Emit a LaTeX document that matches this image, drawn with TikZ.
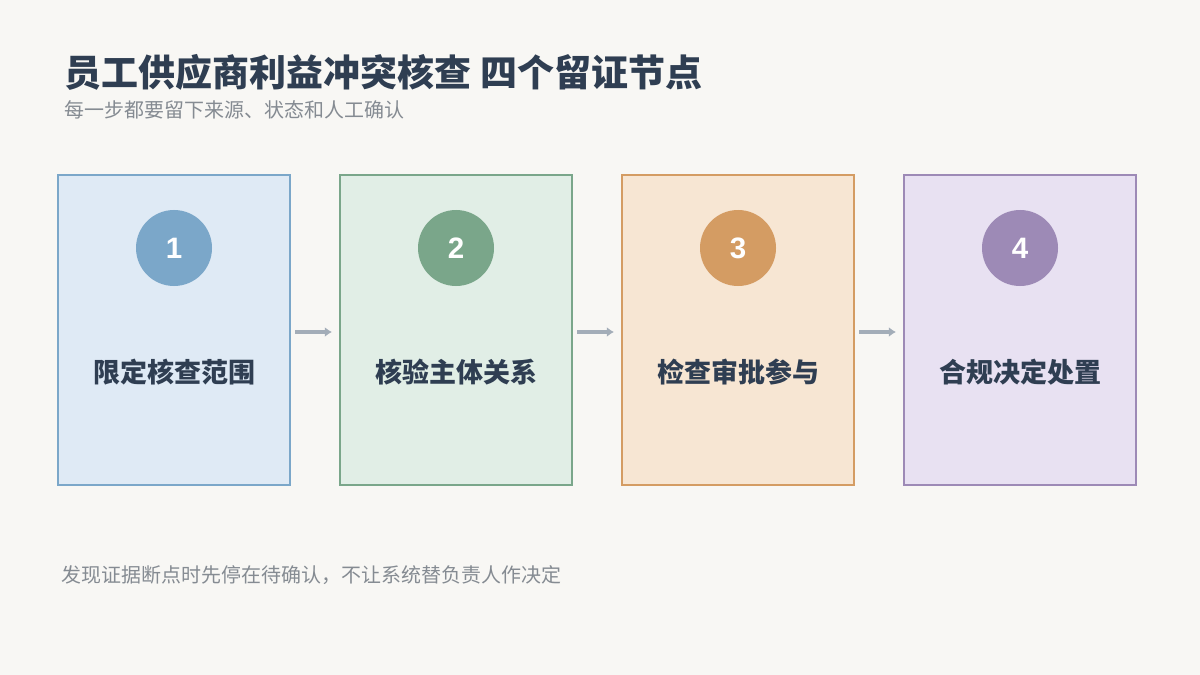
\documentclass[tikz,border=0pt]{standalone}
\usepackage{fontspec}
\setmainfont{Noto Sans CJK SC}
\setsansfont{Liberation Sans}
\usetikzlibrary{positioning,arrows.meta}
\definecolor{bgc}{HTML}{F8F7F4}
\definecolor{ink}{HTML}{2F3E52}
\definecolor{muted}{HTML}{858B92}
\definecolor{arrowc}{HTML}{A3ADB8}
\definecolor{fillA}{HTML}{DFEAF5}\definecolor{lineA}{HTML}{7BA7C9}
\definecolor{fillB}{HTML}{E1EEE6}\definecolor{lineB}{HTML}{7AA68A}
\definecolor{fillC}{HTML}{F7E6D3}\definecolor{lineC}{HTML}{D49C63}
\definecolor{fillD}{HTML}{E8E1F2}\definecolor{lineD}{HTML}{9D8AB6}
\tikzset{
  step/.style={draw=line#1, fill=fill#1, line width=1.5pt, minimum width=232*0.025cm, minimum height=310*0.025cm, inner sep=0pt},
  badge/.style={circle, fill=line#1, minimum size=76*0.025cm, inner sep=0pt, text=white, font=\sffamily\bfseries\fontsize{21}{24}\selectfont},
  steplabel/.style={text=ink, font=\bfseries\fontsize{19.2}{22}\selectfont},
  link/.style={draw=arrowc, line width=2.5pt, -{Latex[length=5pt,width=7pt]}}
}
\begin{document}
\begin{tikzpicture}[x=0.025cm, y=-0.025cm]
\fill[bgc] (0,0) rectangle (1200,675);
\useasboundingbox (0,0) rectangle (1200,675);
% heading
\node[anchor=west, text=ink, font=\bfseries\fontsize{26.3}{30}\selectfont] (title) at (60,72) {员工供应商利益冲突核查 四个留证节点};
\node[anchor=west, text=muted, font=\fontsize{14.2}{17}\selectfont] (sub) at (60,110) {每一步都要留下来源、状态和人工确认};
% steps
\foreach \i/\c/\t in {1/A/限定核查范围, 2/B/核验主体关系, 3/C/检查审批参与, 4/D/合规决定处置}{
  \node[step=\c] (box\i) at ({174+(\i-1)*282},330) {};
  \node[badge=\c] (num\i) at ({174+(\i-1)*282},248) {\i};
  \node[steplabel] (lab\i) at ({174+(\i-1)*282},372) {\t};
}
\foreach \a/\b in {1/2, 2/3, 3/4}
  \draw[link] ([xshift=3pt,yshift=-2*0.025cm]box\a.east) -- ([xshift=-5pt,yshift=-2*0.025cm]box\b.west);
% footer
\node[anchor=west, text=muted, font=\fontsize{14.2}{17}\selectfont] (note) at (57,575) {发现证据断点时先停在待确认，不让系统替负责人作决定};
\end{tikzpicture}
\end{document}
